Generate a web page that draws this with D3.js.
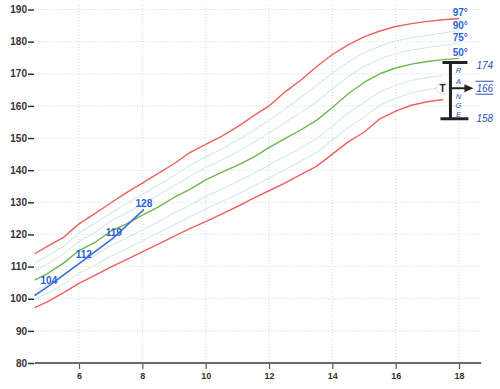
<!DOCTYPE html>
<html>
<head>
<meta charset="utf-8">
<script src="https://cdn.jsdelivr.net/npm/d3@7"></script>
<style>
  body { margin: 0; background: #fff; }
  svg { display: block; font-family: "Liberation Sans", Arial, sans-serif; }
</style>
</head>
<body>
<svg id="chart" width="500" height="389"></svg>
<script>
// ages (years) used by every percentile curve
const ages = [4.6, 5, 5.5, 6, 6.5, 7, 7.5, 8, 8.5, 9, 9.5, 10, 10.5, 11, 11.5, 12,
  12.5, 13, 13.5, 14, 14.5, 15, 15.5, 16, 16.5, 17, 17.5, 18];

// height (cm) per percentile
const p97 = [114, 116.3, 119, 123.3, 126.5, 129.8, 133, 136, 139, 142, 145.5, 148, 150.5, 153.5,
  156.8, 160, 164.3, 168, 172.2, 176, 179, 181.5, 183.3, 184.7, 185.6, 186.3, 186.8, 187.2];
const p90 = [111.1, 113.3, 116.2, 120.4, 123.4, 126.7, 129.6, 132.5, 135.3, 138.3, 141.5, 144.2,
  146.6, 149.3, 152.3, 155.5, 159, 162.6, 166.4, 170.2, 173.7, 176.5, 178.6, 180.2, 181.2, 182,
  182.7, 183.4];
const p75 = [108.6, 110.8, 113.8, 117.9, 120.6, 124.1, 126.7, 129.5, 132.2, 135.2, 138, 140.9,
  143.2, 145.7, 148.5, 151.6, 154.8, 157.9, 161.3, 165.3, 169.1, 172.3, 174.7, 176.3, 177.4,
  178.2, 178.9, 179.5];
const p50 = [105.8, 107.8, 111, 115, 117.5, 121, 123.3, 126, 128.5, 131.5, 134, 137, 139.3, 141.5,
  144, 147, 149.8, 152.5, 155.5, 159.5, 163.8, 167.3, 170, 171.8, 173, 173.8, 174.4, 174.8];
const p25 = [102.4, 104.3, 107.3, 110.9, 113.4, 116.5, 118.9, 121.4, 123.9, 126.7, 129.1, 131.8,
  134.1, 136.4, 138.9, 141.6, 144.3, 146.9, 149.8, 153.7, 157.8, 161.1, 164.4, 166.4, 167.9,
  168.8, 169.4, null];
const p10 = [99.8, 101.6, 104.6, 107.9, 110.4, 113.2, 115.5, 118, 120.5, 123, 125.5, 127.9, 130.2,
  132.5, 135, 137.6, 140.1, 142.8, 145.5, 149.4, 153.3, 156.5, 160.2, 162.4, 164, 165.1, 165.7, null];
const p3 = [97.2, 99, 101.8, 104.8, 107.3, 109.8, 112.2, 114.6, 117, 119.4, 121.8, 124, 126.3,
  128.7, 131.2, 133.6, 136, 138.6, 141.2, 145, 148.8, 151.8, 156, 158.4, 160.2, 161.3, 162, null];

// the child's measurements
const childAges = [4.6, 5.05, 6.15, 7.1, 8.05];
const childHeights = [101, 104, 112, 119, 127.8];
const childLabels = ['', '104', '112', '119', '128'];

// axes
const xTicks = [6, 8, 10, 12, 14, 16, 18];
const yTicks = [80, 90, 100, 110, 120, 130, 140, 150, 160, 170, 180, 190];

// hand-drawn range annotation
const rangeValues = [173.5, 165.5, 156];
const rangeLabels = ['174', '166', '158'];
const rangeLetters = ['R', 'A', 'N', 'G', 'E'];
const letterValues = [171.2, 167.7, 163.1, 160.3, 157.5];

const svg = d3.select('#chart');
const x = d3.scaleLinear().domain([6, 18]).range([79, 459]);
const y = d3.scaleLinear().domain([80, 190]).range([363, 9.5]);

// dotted grid
const grid = svg.append('g')
  .attr('stroke', '#bfe2dc')
  .attr('stroke-width', 1)
  .attr('stroke-dasharray', '1,2');
grid.selectAll('line.h')
  .data(yTicks.slice(1))
  .enter()
  .append('line')
  .attr('x1', x(4.6))
  .attr('x2', x(18.7))
  .attr('y1', d => y(d))
  .attr('y2', d => y(d));
grid.selectAll('line.v')
  .data(xTicks)
  .enter()
  .append('line')
  .attr('x1', d => x(d))
  .attr('x2', d => x(d))
  .attr('y1', y(80))
  .attr('y2', y(191.5));

// y axis: labels with a dash, no spine
const yAxis = svg.append('g').attr('transform', 'translate(34,0)')
  .call(d3.axisLeft(y).tickValues(yTicks).tickSize(6).tickPadding(1));
yAxis.select('.domain').remove();
yAxis.selectAll('line').attr('stroke', '#333').attr('stroke-width', 1.5);
yAxis.selectAll('text')
  .attr('fill', '#333')
  .style('font-size', '10px')
  .style('font-weight', 'bold');

// x axis
const xAxis = svg.append('g').attr('transform', 'translate(0,' + y(80) + ')')
  .call(d3.axisBottom(x).tickValues(xTicks).tickSize(6).tickPadding(4));
xAxis.select('.domain').remove();
xAxis.selectAll('line').attr('stroke', '#555').attr('stroke-width', 1.2);
xAxis.selectAll('text')
  .attr('fill', '#333')
  .style('font-size', '9px')
  .style('font-weight', 'bold');
svg.append('line')
  .attr('x1', x(4.6))
  .attr('x2', x(18.7))
  .attr('y1', y(80))
  .attr('y2', y(80))
  .attr('stroke', '#6a6878')
  .attr('stroke-width', 2);

// percentile curves
const line = d3.line()
  .defined(d => d[1] != null)
  .x(d => x(d[0]))
  .y(d => y(d[1]));

const curves = [
  { vals: p90, color: '#d3eae3', w: 1.1 },
  { vals: p75, color: '#d3eae3', w: 1.1 },
  { vals: p25, color: '#d3eae3', w: 1.1 },
  { vals: p10, color: '#d3eae3', w: 1.1 },
  { vals: p97, color: '#f0605c', w: 1.4 },
  { vals: p3, color: '#f0605c', w: 1.4 },
  { vals: p50, color: '#6cb84e', w: 1.4 }
];
svg.append('g')
  .selectAll('path')
  .data(curves)
  .enter()
  .append('path')
  .attr('fill', 'none')
  .attr('stroke', d => d.color)
  .attr('stroke-width', d => d.w)
  .attr('stroke-linejoin', 'round')
  .attr('d', d => line(ages.map((a, i) => [a, d.vals[i]])));

// percentile labels at the right ends
const pctLabels = [
  { text: '97°', v: p97[p97.length - 1] },
  { text: '90°', v: p90[p90.length - 1] },
  { text: '75°', v: p75[p75.length - 1] },
  { text: '50°', v: p50[p50.length - 1] }
];
svg.append('g')
  .selectAll('text')
  .data(pctLabels)
  .enter()
  .append('text')
  .attr('x', x(17.8))
  .attr('y', d => y(d.v) - 2)
  .attr('fill', '#2d5fd8')
  .style('font-size', '10px')
  .style('font-weight', 'bold')
  .text(d => d.text);

// child's growth line
const child = childAges.map((a, i) => [a, childHeights[i]]);
svg.append('path')
  .attr('fill', 'none')
  .attr('stroke', '#3b6fdc')
  .attr('stroke-width', 1.6)
  .attr('d', line(child));
svg.append('g')
  .selectAll('text')
  .data(child.filter((d, i) => childLabels[i] !== ''))
  .enter()
  .append('text')
  .attr('x', d => x(d[0]))
  .attr('y', (d, i) => y(d[1]) - 2)
  .attr('text-anchor', 'middle')
  .attr('fill', '#2d5fd8')
  .style('font-size', '10px')
  .style('font-weight', 'bold')
  .text((d, i) => childLabels.filter(l => l !== '')[i]);

// range bracket annotation
const bx = x(17.73);
const ann = svg.append('g').attr('stroke', '#222').attr('stroke-width', 3);
ann.append('line')
  .attr('x1', bx).attr('x2', bx)
  .attr('y1', y(rangeValues[0])).attr('y2', y(rangeValues[2]));
ann.append('line')
  .attr('x1', bx - 8).attr('x2', bx + 17)
  .attr('y1', y(rangeValues[0])).attr('y2', y(rangeValues[0]));
ann.append('line')
  .attr('x1', bx - 10).attr('x2', bx + 18)
  .attr('y1', y(rangeValues[2])).attr('y2', y(rangeValues[2]));
ann.append('line')
  .attr('stroke-width', 2)
  .attr('x1', bx).attr('x2', bx + 17)
  .attr('y1', y(rangeValues[1])).attr('y2', y(rangeValues[1]));
svg.append('path')
  .attr('fill', '#222')
  .attr('d', 'M' + (bx + 23) + ',' + y(rangeValues[1]) +
    ' L' + (bx + 14) + ',' + (y(rangeValues[1]) - 4) +
    ' L' + (bx + 14) + ',' + (y(rangeValues[1]) + 4) + ' Z');

// "T" in a faint circle
svg.append('circle')
  .attr('cx', bx - 8).attr('cy', y(rangeValues[1]))
  .attr('r', 6)
  .attr('fill', '#fff')
  .attr('stroke', '#e4e4e4');
svg.append('text')
  .attr('x', bx - 8).attr('y', y(rangeValues[1]) + 3.5)
  .attr('text-anchor', 'middle')
  .attr('fill', '#222')
  .style('font-size', '10px')
  .style('font-weight', 'bold')
  .text('T');

svg.append('g')
  .selectAll('text')
  .data(rangeLetters)
  .enter()
  .append('text')
  .attr('x', bx + 8)
  .attr('y', (d, i) => y(letterValues[i]) + 2.7)
  .attr('text-anchor', 'middle')
  .attr('fill', '#2d4fc0')
  .style('font-size', '7.5px')
  .style('font-style', 'italic')
  .text(d => d);

const labelShift = [6, 3.5, 3];
const rl = svg.append('g');
rl.selectAll('text')
  .data(rangeLabels)
  .enter()
  .append('text')
  .attr('x', bx + 26)
  .attr('y', (d, i) => y(rangeValues[i]) + labelShift[i])
  .attr('fill', '#2d4fc0')
  .style('font-size', '10px')
  .style('font-style', 'italic')
  .text(d => d);
rl.append('line')
  .attr('x1', bx + 25).attr('x2', bx + 43)
  .attr('y1', y(rangeValues[1]) - 7).attr('y2', y(rangeValues[1]) - 7)
  .attr('stroke', '#2d4fc0').attr('stroke-width', 1);
rl.append('line')
  .attr('x1', bx + 25).attr('x2', bx + 43)
  .attr('y1', y(rangeValues[1]) + 6).attr('y2', y(rangeValues[1]) + 6)
  .attr('stroke', '#2d4fc0').attr('stroke-width', 1);
</script>
</body>
</html>
